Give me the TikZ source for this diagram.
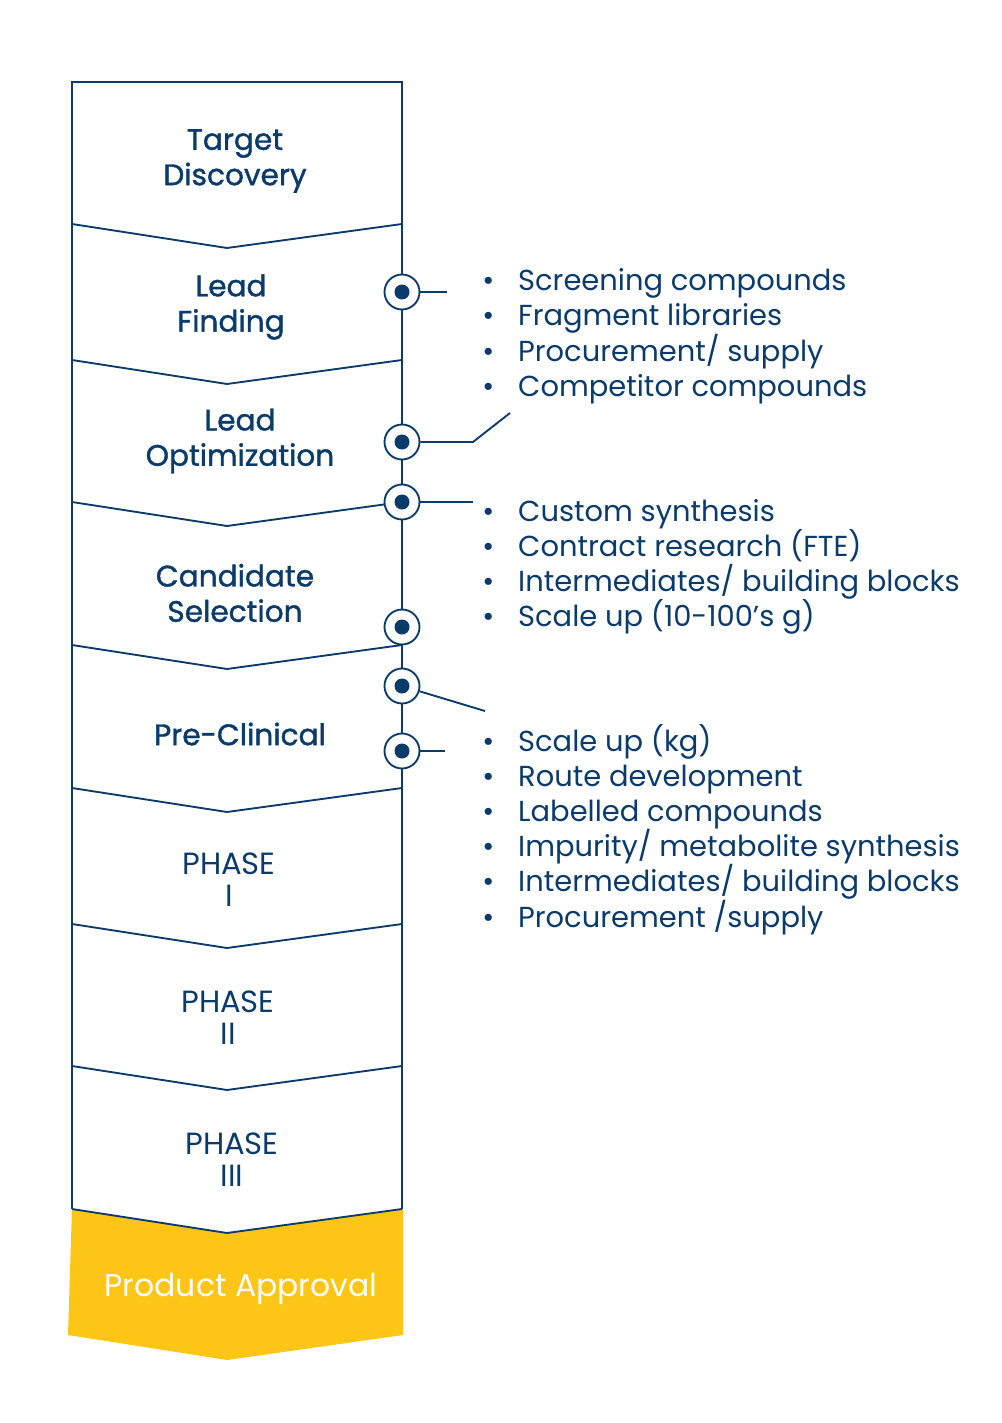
\documentclass[tikz,border=0pt]{standalone}
\usepackage{fontspec}
\setmainfont{Poppins}
\definecolor{navy}{HTML}{0B3B6B}
\definecolor{gold}{HTML}{FDC617}
\begin{document}
\begin{tikzpicture}[x=0.75pt,y=-0.75pt,
  band/.style={draw=navy,line width=1.4pt,line join=miter},
  lab/.style={text=navy,font=\fontsize{22.2}{26.5}\selectfont\addfontfeature{FakeBold=1.3},align=center},
  ph/.style={text=navy,font=\fontsize{23}{24}\selectfont,align=center},
  bul/.style={text=navy,font=\fontsize{21.7}{26.2}\selectfont,anchor=north west,align=left,inner sep=0pt},
  ring/.style={circle,draw=navy,fill=white,line width=1.4pt,minimum size=35pt*0.75,inner sep=0pt},
  dot/.style={circle,fill=navy,minimum size=15pt*0.75,inner sep=0pt},
  con/.style={draw=navy,line width=1.4pt}]
\useasboundingbox (0,0) rectangle (1001,1423);
% yellow final
\fill[gold] (72,1209) -- (227,1233) -- (403,1209) -- (403,1335) -- (227,1360) -- (68,1335) -- cycle;
\node[text=white,font=\fontsize{23.6}{26}\selectfont] (pa) at (241,1289) {Product Approval};
% bands
\draw[band] (72,1209) -- (72,82) -- (402,82) -- (402,1209);
\foreach \y in {224,360,502,645,788,924,1066,1209}
  \draw[band] (72,\y) -- (227,\y+24) -- (402,\y);
% labels
\node[lab] (t1) at (235,161) {Target\\Discovery};
\node[lab] (t2) at (231,307) {Lead\\Finding};
\node[lab] (t3) at (240,441) {Lead\\Optimization};
\node[lab] (t4) at (235,593) {Candidate\\Selection};
\node[lab] (t5) at (240,734) {Pre-Clinical};
\node[ph] (t6) at (229,880) {PHASE\\I};
\node[ph] (t7) at (228,1018) {PHASE\\II};
\node[ph] (t8) at (232,1160) {PHASE\\III};
% rings
\foreach \n/\y in {c1/292,c2/442,c3/502,c4/627,c5/686,c6/751}{
  \node[ring] (\n) at (402,\y) {};
  \node[dot] at (402,\y) {};
}
\coordinate (e1) at (447,292);
\coordinate (k2) at (473,442); \coordinate (e2) at (510,413);
\coordinate (e3) at (473,502);
\coordinate (e5) at (485,711);
\coordinate (e6) at (445,751);
\draw[con] (c1) -- (e1);
\draw[con] (c2.east) -- (k2) -- (e2);
\draw[con] (c3.east) -- (e3);
\draw[con] (c5) -- (e5);
\draw[con] (c6.east) -- (e6);
% lists
\node[bul] (l1) at (482,268) {•\hspace{18pt}Screening compounds\\•\hspace{18pt}Fragment libraries\\•\hspace{18pt}Procurement/ supply\\•\hspace{18pt}Competitor compounds};
\node[bul] (l2) at (482,499) {•\hspace{18pt}Custom synthesis\\•\hspace{18pt}Contract research (FTE)\\•\hspace{18pt}Intermediates/ building blocks\\•\hspace{18pt}Scale up (10-100’s g)};
\node[bul] (l3) at (482,724) {•\hspace{18pt}Scale up (kg)\\•\hspace{18pt}Route development\\•\hspace{18pt}Labelled compounds\\•\hspace{18pt}Impurity/ metabolite synthesis\\•\hspace{18pt}Intermediates/ building blocks\\•\hspace{18pt}Procurement /supply};
\end{tikzpicture}
\end{document}
